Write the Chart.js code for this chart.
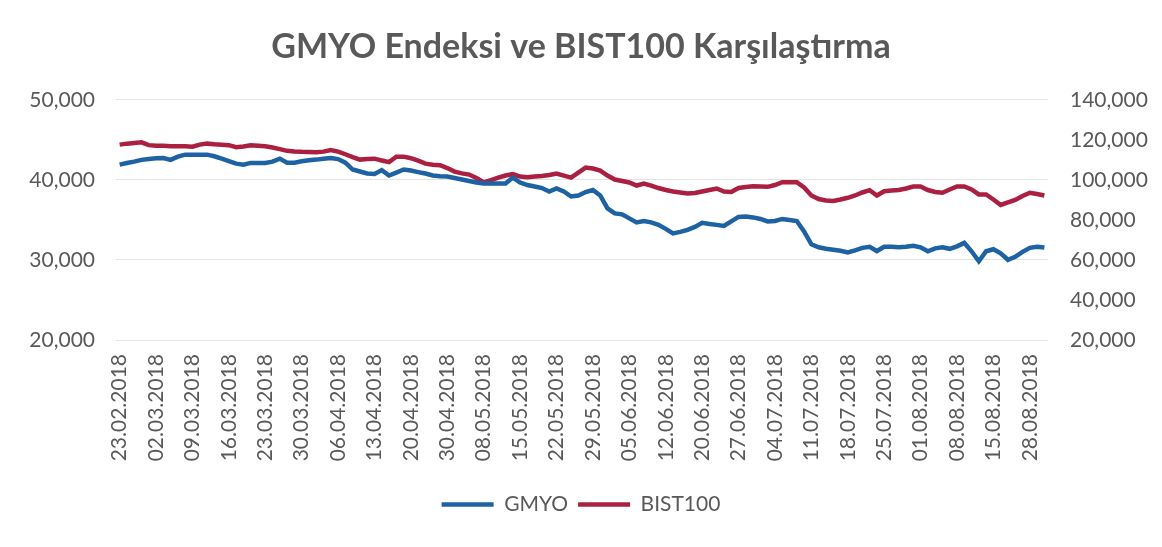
<!DOCTYPE html>
<html>
<head>
<meta charset="utf-8">
<script src="https://cdn.jsdelivr.net/npm/chart.js@4"></script>
<style>
  body { margin: 0; background: #fff; }
</style>
</head>
<body>
<canvas id="graf" width="1162" height="547"></canvas>
<script>
// işlem günleri (her 5. gün eksende yazılıyor)
const dates = [
  '23.02.2018', '26.02.2018', '27.02.2018', '28.02.2018', '01.03.2018',
  '02.03.2018', '05.03.2018', '06.03.2018', '07.03.2018', '08.03.2018',
  '09.03.2018', '12.03.2018', '13.03.2018', '14.03.2018', '15.03.2018',
  '16.03.2018', '19.03.2018', '20.03.2018', '21.03.2018', '22.03.2018',
  '23.03.2018', '26.03.2018', '27.03.2018', '28.03.2018', '29.03.2018',
  '30.03.2018', '02.04.2018', '03.04.2018', '04.04.2018', '05.04.2018',
  '06.04.2018', '09.04.2018', '10.04.2018', '11.04.2018', '12.04.2018',
  '13.04.2018', '16.04.2018', '17.04.2018', '18.04.2018', '19.04.2018',
  '20.04.2018', '24.04.2018', '25.04.2018', '26.04.2018', '27.04.2018',
  '30.04.2018', '02.05.2018', '03.05.2018', '04.05.2018', '07.05.2018',
  '08.05.2018', '09.05.2018', '10.05.2018', '11.05.2018', '14.05.2018',
  '15.05.2018', '16.05.2018', '17.05.2018', '18.05.2018', '21.05.2018',
  '22.05.2018', '23.05.2018', '24.05.2018', '25.05.2018', '28.05.2018',
  '29.05.2018', '30.05.2018', '31.05.2018', '01.06.2018', '04.06.2018',
  '05.06.2018', '06.06.2018', '07.06.2018', '08.06.2018', '11.06.2018',
  '12.06.2018', '13.06.2018', '14.06.2018', '18.06.2018', '19.06.2018',
  '20.06.2018', '21.06.2018', '22.06.2018', '25.06.2018', '26.06.2018',
  '27.06.2018', '28.06.2018', '29.06.2018', '02.07.2018', '03.07.2018',
  '04.07.2018', '05.07.2018', '06.07.2018', '09.07.2018', '10.07.2018',
  '11.07.2018', '12.07.2018', '13.07.2018', '16.07.2018', '17.07.2018',
  '18.07.2018', '19.07.2018', '20.07.2018', '23.07.2018', '24.07.2018',
  '25.07.2018', '26.07.2018', '27.07.2018', '30.07.2018', '31.07.2018',
  '01.08.2018', '02.08.2018', '03.08.2018', '06.08.2018', '07.08.2018',
  '08.08.2018', '09.08.2018', '10.08.2018', '13.08.2018', '14.08.2018',
  '15.08.2018', '16.08.2018', '17.08.2018', '20.08.2018', '27.08.2018',
  '28.08.2018', '29.08.2018', '31.08.2018'
]

// GMYO endeksi (sol eksen)
const gmyo = [
  41900, 42100, 42280, 42500, 42600, 42700, 42720, 42500, 42900, 43150,
  43150, 43150, 43150, 42950, 42650, 42340, 42030, 41900, 42120, 42120,
  42120, 42280, 42650, 42150, 42150, 42320, 42450, 42530, 42650, 42740,
  42600, 42150, 41290, 41040, 40790, 40730, 41220, 40540, 40910, 41290,
  41160, 40970, 40790, 40540, 40450, 40420, 40230, 40040, 39850, 39670,
  39540, 39540, 39540, 39540, 40290, 39670, 39350, 39170, 38980, 38550,
  38920, 38550, 37920, 38050, 38480, 38730, 38050, 36430, 35810, 35690,
  35190, 34690, 34850, 34690, 34380, 33880, 33320, 33510, 33760, 34130,
  34630, 34500, 34380, 34250, 34810, 35370, 35430, 35310, 35120, 34810,
  34870, 35120, 34990, 34860, 33570, 31950, 31580, 31390, 31270, 31150,
  30950, 31200, 31510, 31640, 31110, 31640, 31640, 31580, 31640, 31760,
  31580, 31080, 31450, 31580, 31390, 31700, 32130, 31080, 29830, 31080,
  31330, 30830, 30020, 30390, 31010, 31510, 31640, 31550
]

// BIST100 endeksi (sağ eksen)
const bist100 = [
  117600, 118100, 118450, 118750, 117350, 117100, 117000, 116850, 116850, 116750,
  116600, 117600, 118100, 117800, 117600, 117350, 116350, 116700, 117240, 117000,
  116750, 116200, 115350, 114500, 114200, 114000, 113900, 113800, 114100, 114950,
  114100, 112800, 111400, 110120, 110370, 110600, 109700, 108850, 111600, 111600,
  110830, 109600, 108100, 107600, 107300, 105900, 104140, 103250, 102650, 100900,
  98700, 99900, 101150, 102150, 102900, 101650, 101300, 101650, 101900, 102400,
  103150, 102150, 101150, 103650, 106150, 105650, 104640, 102150, 100160, 99400,
  98700, 97170, 98200, 97170, 95930, 94930, 94200, 93700, 93200, 93440,
  94200, 94930, 95680, 94200, 93930, 95930, 96430, 96820, 96680, 96530,
  97430, 98820, 98820, 98820, 96180, 92200, 90450, 89700, 89450, 90200,
  91050, 92200, 93700, 94830, 92200, 94330, 94680, 94930, 95680, 96680,
  96680, 94930, 93930, 93550, 95180, 96680, 96680, 95180, 92700, 92700,
  90200, 87460, 88700, 89950, 91940, 93550, 92950, 92200
]

const textColor = '#595959'
const fontFamily = 'Lato, "Open Sans", sans-serif'

Chart.defaults.font.family = fontFamily
Chart.defaults.color = textColor

const ctx = document.getElementById('graf').getContext('2d')

const data = {
  labels: dates,
  datasets: [
    {
      label: 'GMYO',
      data: gmyo,
      yAxisID: 'y',
      borderColor: '#1d62a3',
      backgroundColor: '#1d62a3',
      borderWidth: 4.5,
      pointRadius: 0,
      pointStyle: 'line',
      tension: 0
    },
    {
      label: 'BIST100',
      data: bist100,
      yAxisID: 'y1',
      borderColor: '#ab1f41',
      backgroundColor: '#ab1f41',
      borderWidth: 4.5,
      pointRadius: 0,
      pointStyle: 'line',
      tension: 0
    }
  ]
}

const fmt = v => v.toLocaleString('en-US')

const config = {
  type: 'line',
  data: data,
  options: {
    responsive: false,
    animation: false,
    layout: { padding: { top: 0, left: 0, right: 0, bottom: 22 } },
    plugins: {
      title: {
        display: true,
        text: 'GMYO Endeksi ve BIST100 Karşılaştırma',
        color: textColor,
        font: { size: 34, weight: 'bold' },
        padding: { top: 27, bottom: 32 }
      },
      legend: {
        position: 'bottom',
        labels: {
          usePointStyle: true,
          pointStyleWidth: 52,
          color: textColor,
          font: { size: 21 },
          padding: 10
        }
      },
      tooltip: { enabled: false }
    },
    scales: {
      x: {
        offset: true,
        grid: { display: false, drawTicks: false },
        border: { display: false },
        ticks: {
          autoSkip: false,
          minRotation: 90,
          maxRotation: 90,
          padding: 14,
          font: { size: 21 },
          callback: function (value, index) {
            return index % 5 === 0 ? dates[index] : ''
          }
        },
        afterFit: s => { s.height = 144 }
      },
      y: {
        position: 'left',
        min: 20000,
        max: 50000,
        grid: { color: '#e2e2e2', lineWidth: 1, drawTicks: false },
        border: { display: false },
        ticks: { stepSize: 10000, padding: 21, font: { size: 21 }, callback: fmt },
        afterFit: s => { s.width = 116 }
      },
      y1: {
        position: 'right',
        min: 20000,
        max: 140000,
        grid: { display: false, drawTicks: false },
        border: { display: false },
        ticks: { stepSize: 20000, padding: 22, font: { size: 21 }, callback: fmt },
        afterFit: s => { s.width = 114 }
      }
    }
  }
}

const grafic = new Chart(ctx, config)
</script>
</body>
</html>
